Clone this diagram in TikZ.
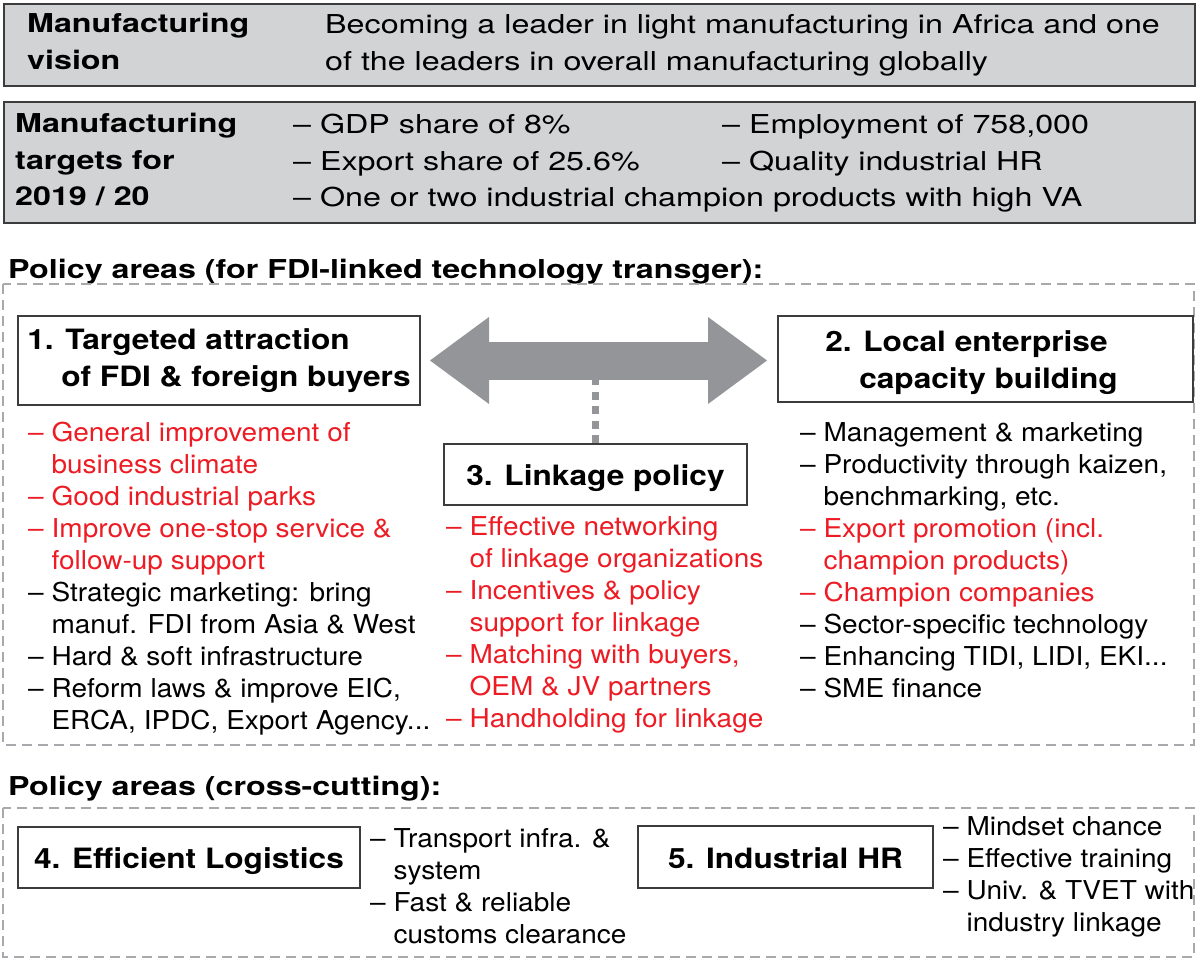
\documentclass[tikz,border=0pt]{standalone}
\usepackage{fontspec}
\setmainfont{TeX Gyre Heros}[FakeStretch=1.077]
\newfontfamily\wideface{TeX Gyre Heros}[FakeStretch=1.24]
\newfontfamily\titleface{TeX Gyre Heros}[FakeStretch=1.13]
\usetikzlibrary{arrows.meta}
\definecolor{boxgray}{HTML}{D1D3D4}
\definecolor{linegray}{HTML}{3C3C3C}
\definecolor{arrowgray}{HTML}{939598}
\definecolor{framegray}{HTML}{A7A9AC}
\definecolor{itemred}{HTML}{ED1C24}
\tikzset{graybox/.style={draw=linegray, line width=2pt, fill=boxgray, inner sep=0pt},
    titlebox/.style={draw=linegray, line width=2pt, fill=white, inner sep=0pt,
        font=\titleface\bfseries\fontsize{28}{37}\selectfont},
    onebox/.style={titlebox, text height=22pt, text depth=0pt},
    headtext/.style={font=\wideface\bfseries\fontsize{26}{36.5}\selectfont, inner sep=0pt, anchor=base west},
    toptext/.style={font=\wideface\fontsize{26}{36.5}\selectfont, inner sep=0pt, anchor=base west},
    itemtext/.style={font=\fontsize{26}{32.1}\selectfont, inner sep=0pt, anchor=base west},
    frame/.style={draw=framegray, line width=1.5pt, dash pattern=on 10pt off 6pt},
    bigarrow/.style={draw=arrowgray, line width=38pt,
        {Triangle[length=59pt,width=87pt,line width=0pt]}-{Triangle[length=59pt,width=87pt,line width=0pt]}},
    linkdots/.style={draw=arrowgray, line width=7pt, dash pattern=on 8pt off 6.5pt},
    }
\newcommand\lines[1]{\begin{tabular}[t]{@{}l@{}}#1\end{tabular}}
\newcommand\cont{\hphantom{– }}

\begin{document}
\begin{tikzpicture}[x=1pt,y=-1pt]
	\useasboundingbox (0,0) rectangle (1196,960);
	% vision and targets
	\node[graybox, anchor=north west, minimum width=1191pt, minimum height=82pt] (vision) at (3,3) {};
	\node[headtext] (visionhead) at (27,33) {\lines{Manufacturing\\vision}};
	\node[toptext] (visiontext) at (325,34) {\lines{Becoming a leader in light manufacturing in Africa and one\\of the leaders in overall manufacturing globally}};
	\node[graybox, anchor=north west, minimum width=1191pt, minimum height=121pt] (targets) at (3,101) {};
	\node[headtext] (targethead) at (15,133) {\lines{Manufacturing\\targets for\\2019 / 20}};
	\node[toptext] (targetA) at (293,134) {\lines{– GDP share of 8\%\\– Export share of 25.6\%\\– One or two industrial champion products with high VA}};
	\node[toptext] (targetB) at (722,134) {\lines{– Employment of 758,000\\– Quality industrial HR}};

	% FDI-linked policy areas
	\node[headtext] (fdihead) at (8,278) {Policy areas (for FDI-linked technology transger):};
	\draw[frame] (3,284) rectangle (1194,745);
	\node[titlebox, minimum width=402pt, minimum height=89pt] (fdi) at (219,360.5)
		{\begin{tabular}{@{}l@{}}1. Targeted attraction\\\hspace*{34pt}of FDI \& foreign buyers\end{tabular}};
	\node[titlebox, minimum width=415pt, minimum height=86pt] (local) at (985.5,359)
		{\raisebox{-4pt}[\height][\depth]{\begin{tabular}{@{}l@{}}2. Local enterprise\\\hspace*{34pt}capacity building\end{tabular}}\hspace*{28pt}};
	\node[onebox, minimum width=303pt, minimum height=61pt] (link) at (595.5,474.5) {3. Linkage policy};
	\draw[linkdots] (link.north) -- (link.north |- fdi.east);
	\draw[bigarrow, shorten <=9pt, shorten >=10pt] (fdi.east) -- (fdi.east -| local.west);

	\node[itemtext, text=itemred] (fdired) at (28,441) {\lines{– General improvement of\\\cont business climate\\– Good industrial parks\\– Improve one-stop service \&\\\cont follow-up support}};
	\node[itemtext] (fdiblack) at (28,601.5) {\lines{– Strategic marketing: bring\\\cont manuf. FDI from Asia \& West\\– Hard \& soft infrastructure\\– Reform laws \& improve EIC,\\\cont ERCA, IPDC, Export Agency...}};
	\node[itemtext, text=itemred] (linkred) at (446,535) {\lines{– Effective networking\\\cont of linkage organizations\\– Incentives \& policy\\\cont support for linkage\\– Matching with buyers,\\\cont OEM \& JV partners\\– Handholding for linkage}};
	\node[itemtext] (localA) at (800,441) {\lines{– Management \& marketing\\– Productivity through kaizen,\\\cont benchmarking, etc.}};
	\node[itemtext, text=itemred] (localred) at (800,537.3) {\lines{– Export promotion (incl.\\\cont champion products)\\– Champion companies}};
	\node[itemtext] (localB) at (800,633.6) {\lines{– Sector-specific technology\\– Enhancing TIDI, LIDI, EKI...\\– SME finance}};

	% cross-cutting policy areas
	\node[headtext] (crosshead) at (8,795) {Policy areas (cross-cutting):};
	\draw[frame] (3,808) rectangle (1194,957);
	\node[onebox, minimum width=342pt, minimum height=61pt] (logis) at (189,857.2) {4. Efficient Logistics};
	\node[itemtext] (logisitems) at (370,847) {\lines{– Transport infra. \&\\\cont system\\– Fast \& reliable\\\cont customs clearance}};
	\node[onebox, minimum width=295pt, minimum height=62pt] (hr) at (785.5,857) {5. Industrial HR};
	\node[itemtext] (hritems) at (943,835) {\lines{– Mindset chance\\– Effective training\\– Univ. \& TVET with\\\cont industry linkage}};
\end{tikzpicture}
\end{document}
